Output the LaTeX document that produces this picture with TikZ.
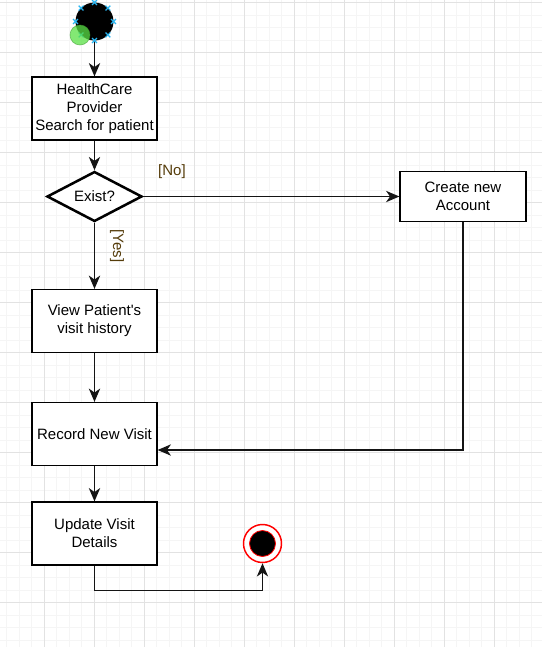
\documentclass[tikz,border=0pt]{standalone}
\usepackage{fontspec}
\setmainfont{Liberation Sans}
\usetikzlibrary{shapes.geometric,arrows.meta}
\definecolor{minorg}{RGB}{245,245,245}
\definecolor{majorg}{RGB}{226,226,226}
\definecolor{hblue}{RGB}{41,182,242}
\definecolor{hgreen}{RGB}{90,225,70}
\definecolor{lblbrown}{RGB}{85,60,10}
\begin{document}
\begin{tikzpicture}[x=0.75pt,y=-0.75pt,
  txt/.style={font=\fontsize{11.25}{13.5}\selectfont, text=black},
  box/.style={txt, draw=black, line width=0.95pt, fill=white, minimum width=93.75pt, minimum height=47.25pt, align=center, inner sep=0pt},
  dec/.style={txt, diamond, aspect=1.9, draw=black, line width=1.9pt, fill=white, minimum width=71.25pt, minimum height=37.5pt, inner sep=0pt},
  conn/.style={draw=black!92, line width=0.95pt, -{Stealth[length=10pt,width=8.5pt,inset=3pt]}},
  lbl/.style={txt, text=lblbrown},
  minorline/.style={draw=minorg, line width=0.75pt},
  majorline/.style={draw=majorg, line width=0.75pt},
  hcross/.style={draw=hblue, line width=0.9pt}
]
\useasboundingbox (0,0) rectangle (542,647);
\fill[white] (0,0) rectangle (542,647);
% grid
\foreach \x in {6.5,19,...,541} \draw[minorline] (\x,0) -- (\x,647);
\foreach \y in {2.5,15,...,646} \draw[minorline] (0,\y) -- (542,\y);
\foreach \x in {44.5,94.5,...,494.5} \draw[majorline] (\x,0) -- (\x,647);
\foreach \y in {2.5,52.5,...,602.5} \draw[majorline] (0,\y) -- (542,\y);

% nodes
\node[circle, fill=black, minimum size=28.5pt, inner sep=0pt] (s) at (94.5,21.5) {};
\node[box] (b1) at (94.5,108.5) {\raisebox{-1.2pt}{\parbox{90pt}{\centering HealthCare\\Provider\\Search for patient}}};
\node[dec] (d) at (94.5,196.5) {Exist?};
\node[box, minimum width=94.5pt, minimum height=37.5pt] (c) at (463,196.5) {\raisebox{-1pt}{\parbox{90pt}{\centering Create new\\Account}}};
\node[box] (v) at (94.5,321) {\raisebox{-1pt}{\parbox{90pt}{\centering View Patient\textquotesingle s\\visit history}}};
\node[box] (r) at (94.5,434) {Record New Visit};
\node[box] (u) at (94.5,533.5) {\raisebox{-1pt}{\parbox{90pt}{\centering Update Visit\\Details}}};
\node[circle, draw=red, line width=1.1pt, fill=white, minimum size=28.5pt, inner sep=0pt] (e) at (262.5,543.5) {};
\node[circle, draw=red, line width=0.6pt, fill=black, minimum size=19.5pt, inner sep=0pt] (ei) at (262.5,543.5) {};

% labels
\node[lbl] (lno) at (172,172) {[No]};
\node[lbl, rotate=-90] (lyes) at (117,246) {[Yes]};

% connectors
\draw[conn] (s) -- (b1);
\draw[conn] (b1) -- (d);
\draw[conn] (d.east) -- (c.west);
\draw[conn] (d) -- (v);
\draw[conn] (v) -- (r);
\draw[conn] (c.south) |- ([yshift=-12pt]r.east);
\draw[conn] (r) -- (u);
\draw[conn] (u.south) -- ++(0,25) -| (e.south);

% selection handles of start node
\foreach \a in {0,45,...,315} {
  \path (s) ++(\a:19) coordinate (hh);
  \draw[hcross] (hh) +(-2.4,-2.4) -- +(2.4,2.4) (hh) +(-2.4,2.4) -- +(2.4,-2.4);
}
\fill[hgreen, opacity=0.75] (80,35) circle (10);
\draw[hgreen!70!black, opacity=0.6, line width=0.5pt] (80,35) circle (10);
\end{tikzpicture}
\end{document}
